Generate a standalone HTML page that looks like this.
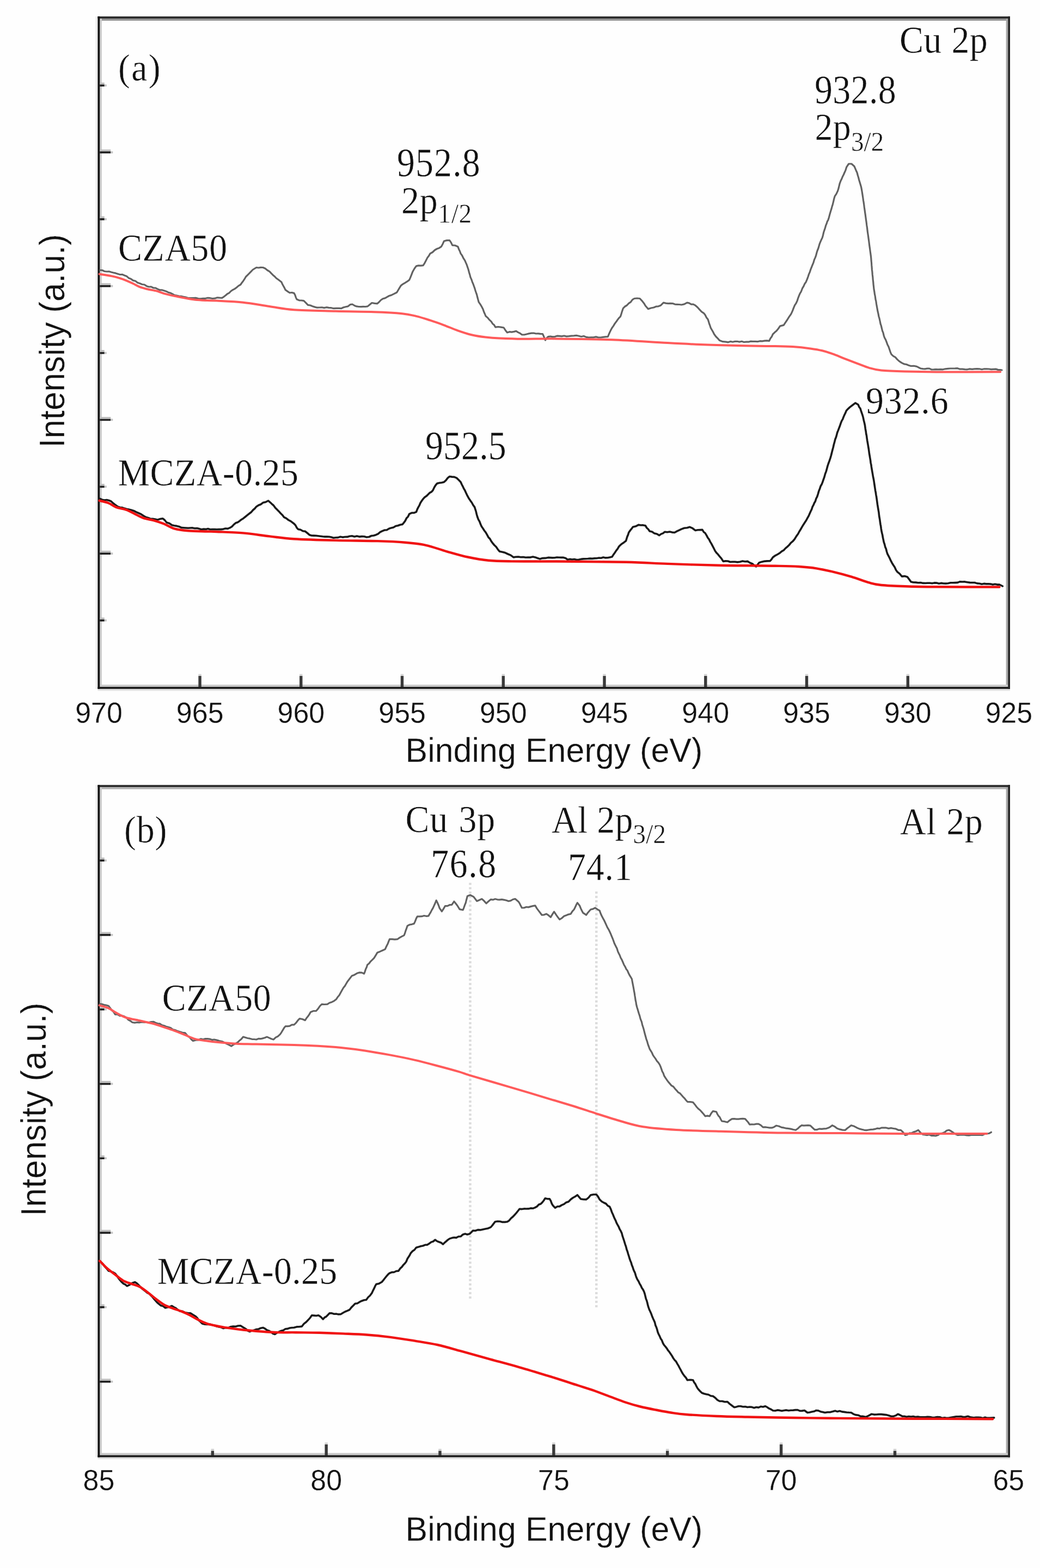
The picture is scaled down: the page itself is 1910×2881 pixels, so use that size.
<!DOCTYPE html>
<html><head><meta charset="utf-8"><title>XPS spectra</title>
<style>
html,body{margin:0;padding:0;background:#fff;}
body{width:1910px;height:2881px;overflow:hidden;}
svg{display:block;}
text{fill:#111;stroke:#fefefe;stroke-width:0.5px;}
</style></head>
<body>
<svg width="1910" height="2881" viewBox="0 0 1910 2881">
<rect width="1910" height="2881" fill="#fefefe"/>
<rect x="175.5" y="30.2" width="4" height="1235.6" fill="#ececec"/>
<rect x="179.5" y="1265.8" width="1675.5" height="3.5" fill="#e2e2e2"/>
<rect x="183.3" y="34" width="1667.9" height="4" fill="#929292"/>
<rect x="183.3" y="34" width="3.7" height="1228" fill="#cdcdcd"/>
<rect x="1847.6" y="34" width="3.6" height="1228" fill="#a8a8a8"/>
<rect x="183.3" y="1258" width="1667.9" height="4" fill="#c9c9c9"/>
<rect x="179.5" y="30.2" width="1675.5" height="3.8" fill="#2a2a2a"/>
<rect x="179.5" y="1262" width="1675.5" height="3.8" fill="#1c1c1c"/>
<rect x="179.5" y="30.2" width="3.8" height="1235.6" fill="#121212"/>
<rect x="1851.2" y="30.2" width="3.8" height="1235.6" fill="#262626"/>
<rect x="183.3" y="155.2" width="8.5" height="3.7" fill="#1e1e1e"/>
<rect x="183.3" y="151.8" width="8.5" height="3.4" fill="#bdbdbd"/>
<rect x="191.8" y="155.2" width="4" height="3.7" fill="#c4c4c4"/>
<rect x="183.3" y="278.1" width="20" height="3.7" fill="#1e1e1e"/>
<rect x="183.3" y="274.7" width="20" height="3.4" fill="#bdbdbd"/>
<rect x="203.3" y="278.1" width="4" height="3.7" fill="#c4c4c4"/>
<rect x="183.3" y="401" width="8.5" height="3.7" fill="#1e1e1e"/>
<rect x="183.3" y="397.5" width="8.5" height="3.4" fill="#bdbdbd"/>
<rect x="191.8" y="401" width="4" height="3.7" fill="#c4c4c4"/>
<rect x="183.3" y="523.8" width="20" height="3.7" fill="#1e1e1e"/>
<rect x="183.3" y="520.4" width="20" height="3.4" fill="#bdbdbd"/>
<rect x="203.3" y="523.8" width="4" height="3.7" fill="#c4c4c4"/>
<rect x="183.3" y="646.7" width="8.5" height="3.7" fill="#1e1e1e"/>
<rect x="183.3" y="643.2" width="8.5" height="3.4" fill="#bdbdbd"/>
<rect x="191.8" y="646.7" width="4" height="3.7" fill="#c4c4c4"/>
<rect x="183.3" y="769.5" width="20" height="3.7" fill="#1e1e1e"/>
<rect x="183.3" y="766.1" width="20" height="3.4" fill="#bdbdbd"/>
<rect x="203.3" y="769.5" width="4" height="3.7" fill="#c4c4c4"/>
<rect x="183.3" y="892.4" width="8.5" height="3.7" fill="#1e1e1e"/>
<rect x="183.3" y="889" width="8.5" height="3.4" fill="#bdbdbd"/>
<rect x="191.8" y="892.4" width="4" height="3.7" fill="#c4c4c4"/>
<rect x="183.3" y="1015.3" width="20" height="3.7" fill="#1e1e1e"/>
<rect x="183.3" y="1011.8" width="20" height="3.4" fill="#bdbdbd"/>
<rect x="203.3" y="1015.3" width="4" height="3.7" fill="#c4c4c4"/>
<rect x="183.3" y="1138.1" width="8.5" height="3.7" fill="#1e1e1e"/>
<rect x="183.3" y="1134.7" width="8.5" height="3.4" fill="#bdbdbd"/>
<rect x="191.8" y="1138.1" width="4" height="3.7" fill="#c4c4c4"/>
<rect x="364.4" y="1242" width="5.4" height="20" fill="#3a3a3a"/>
<rect x="364.4" y="1238.5" width="5.4" height="3.5" fill="#d2d2d2"/>
<rect x="550.1" y="1242" width="5.4" height="20" fill="#3a3a3a"/>
<rect x="550.1" y="1238.5" width="5.4" height="3.5" fill="#d2d2d2"/>
<rect x="735.8" y="1242" width="5.4" height="20" fill="#3a3a3a"/>
<rect x="735.8" y="1238.5" width="5.4" height="3.5" fill="#d2d2d2"/>
<rect x="921.6" y="1242" width="5.4" height="20" fill="#3a3a3a"/>
<rect x="921.6" y="1238.5" width="5.4" height="3.5" fill="#d2d2d2"/>
<rect x="1107.3" y="1242" width="5.4" height="20" fill="#3a3a3a"/>
<rect x="1107.3" y="1238.5" width="5.4" height="3.5" fill="#d2d2d2"/>
<rect x="1293.1" y="1242" width="5.4" height="20" fill="#3a3a3a"/>
<rect x="1293.1" y="1238.5" width="5.4" height="3.5" fill="#d2d2d2"/>
<rect x="1478.8" y="1242" width="5.4" height="20" fill="#3a3a3a"/>
<rect x="1478.8" y="1238.5" width="5.4" height="3.5" fill="#d2d2d2"/>
<rect x="1664.6" y="1242" width="5.4" height="20" fill="#3a3a3a"/>
<rect x="1664.6" y="1238.5" width="5.4" height="3.5" fill="#d2d2d2"/>
<rect x="175.5" y="1442.3" width="4" height="1235.2" fill="#ececec"/>
<rect x="179.5" y="2677.5" width="1675.5" height="3.5" fill="#e2e2e2"/>
<rect x="183.3" y="1446.1" width="1667.9" height="4" fill="#b4b4b4"/>
<rect x="183.3" y="1446.1" width="3.7" height="1227.6" fill="#cdcdcd"/>
<rect x="1847.6" y="1446.1" width="3.6" height="1227.6" fill="#a8a8a8"/>
<rect x="183.3" y="2669.7" width="1667.9" height="4" fill="#c9c9c9"/>
<rect x="179.5" y="1442.3" width="1675.5" height="3.8" fill="#2a2a2a"/>
<rect x="179.5" y="2673.7" width="1675.5" height="3.8" fill="#1c1c1c"/>
<rect x="179.5" y="1442.3" width="3.8" height="1235.2" fill="#121212"/>
<rect x="1851.2" y="1442.3" width="3.8" height="1235.2" fill="#262626"/>
<rect x="183.3" y="1579.2" width="8.5" height="3.7" fill="#1e1e1e"/>
<rect x="183.3" y="1575.7" width="8.5" height="3.4" fill="#bdbdbd"/>
<rect x="191.8" y="1579.2" width="4" height="3.7" fill="#c4c4c4"/>
<rect x="183.3" y="1716" width="20" height="3.7" fill="#1e1e1e"/>
<rect x="183.3" y="1712.5" width="20" height="3.4" fill="#bdbdbd"/>
<rect x="203.3" y="1716" width="4" height="3.7" fill="#c4c4c4"/>
<rect x="183.3" y="1852.8" width="8.5" height="3.7" fill="#1e1e1e"/>
<rect x="183.3" y="1849.3" width="8.5" height="3.4" fill="#bdbdbd"/>
<rect x="191.8" y="1852.8" width="4" height="3.7" fill="#c4c4c4"/>
<rect x="183.3" y="1989.6" width="20" height="3.7" fill="#1e1e1e"/>
<rect x="183.3" y="1986.1" width="20" height="3.4" fill="#bdbdbd"/>
<rect x="203.3" y="1989.6" width="4" height="3.7" fill="#c4c4c4"/>
<rect x="183.3" y="2126.3" width="8.5" height="3.7" fill="#1e1e1e"/>
<rect x="183.3" y="2122.9" width="8.5" height="3.4" fill="#bdbdbd"/>
<rect x="191.8" y="2126.3" width="4" height="3.7" fill="#c4c4c4"/>
<rect x="183.3" y="2263.2" width="20" height="3.7" fill="#1e1e1e"/>
<rect x="183.3" y="2259.7" width="20" height="3.4" fill="#bdbdbd"/>
<rect x="203.3" y="2263.2" width="4" height="3.7" fill="#c4c4c4"/>
<rect x="183.3" y="2400" width="8.5" height="3.7" fill="#1e1e1e"/>
<rect x="183.3" y="2396.5" width="8.5" height="3.4" fill="#bdbdbd"/>
<rect x="191.8" y="2400" width="4" height="3.7" fill="#c4c4c4"/>
<rect x="183.3" y="2536.8" width="20" height="3.7" fill="#1e1e1e"/>
<rect x="183.3" y="2533.3" width="20" height="3.4" fill="#bdbdbd"/>
<rect x="203.3" y="2536.8" width="4" height="3.7" fill="#c4c4c4"/>
<rect x="387.7" y="2665.5" width="5.4" height="8.5" fill="#3a3a3a"/>
<rect x="387.7" y="2662" width="5.4" height="3.5" fill="#d2d2d2"/>
<rect x="596.5" y="2654" width="5.4" height="20" fill="#3a3a3a"/>
<rect x="596.5" y="2650.5" width="5.4" height="3.5" fill="#d2d2d2"/>
<rect x="805.3" y="2665.5" width="5.4" height="8.5" fill="#3a3a3a"/>
<rect x="805.3" y="2662" width="5.4" height="3.5" fill="#d2d2d2"/>
<rect x="1014.2" y="2654" width="5.4" height="20" fill="#3a3a3a"/>
<rect x="1014.2" y="2650.5" width="5.4" height="3.5" fill="#d2d2d2"/>
<rect x="1223" y="2665.5" width="5.4" height="8.5" fill="#3a3a3a"/>
<rect x="1223" y="2662" width="5.4" height="3.5" fill="#d2d2d2"/>
<rect x="1431.9" y="2654" width="5.4" height="20" fill="#3a3a3a"/>
<rect x="1431.9" y="2650.5" width="5.4" height="3.5" fill="#d2d2d2"/>
<rect x="1640.8" y="2665.5" width="5.4" height="8.5" fill="#3a3a3a"/>
<rect x="1640.8" y="2662" width="5.4" height="3.5" fill="#d2d2d2"/>
<path d="M863.5 1622V2386M1095.3 1638V2405" stroke="#dcdcdc" stroke-width="4.5" stroke-dasharray="4 4" fill="none"/>
<path d="M183.6 496.4 187.7 496.5 191.8 498.5 196 499 200.1 498.8 204.2 500 208.2 501 212.3 501.9 216.3 503.3 220.4 504.5 224.4 504.3 228.5 506 232.5 507.4 236.6 511.1 240.6 512.6 244.6 515.4 248.7 516.3 252.7 519.4 256.9 520.7 261 522.5 265.2 523 269.3 525.7 273.5 527 277.6 526.8 281.8 529 285.7 529.1 289.6 531.1 293.4 532.8 297.3 532.8 301.2 534 305.1 535.2 309 537.2 312.8 538.2 316.7 540.2 320.6 542.4 324.6 543.1 328.7 544 332.7 544.4 336.7 545.2 340.8 546 344.8 547.3 349.6 547.5 354.5 547.5 359.4 547.3 364.2 548.5 368.6 548.9 372.9 548.3 377.3 548.3 381.6 547.3 386 547.7 390.4 548.5 394.7 548.2 399.1 546.8 403.4 547.1 407.8 547.3 411 545.3 414.3 542.8 417.5 540 420.7 538.4 424 535 427.2 532.7 430.9 530.9 434.5 528.2 438.1 525.1 441.8 523 444.2 519.5 446.6 516.4 449.1 512.7 451.5 508.5 454.7 505.3 457.9 502.2 461.1 498.8 464.3 495.5 467.6 493.5 470.8 491.5 474.9 492 478.9 491.3 483 491.5 487 493.3 491 496.5 495 498.8 498.1 502.2 501.1 505.2 504.1 507.7 507.2 511 510.4 513.3 513.7 515.8 516.9 518.2 518.7 522.3 520.5 525.5 522.4 528.9 524.2 532.7 528.1 535.3 532 538 536 537.5 540 538.6 541.7 541.6 543.4 546.6 545.1 550.1 549.4 551.8 553.6 552 557.9 552.7 561.7 556.3 565.5 560.3 569.8 561 574 562.8 578.3 564.1 582.5 565.2 586.8 565 591 564.8 595.3 565.6 599.5 564.7 603.8 565.4 608.4 565.7 613 566.7 617.5 566.3 622.1 566.4 626.7 566.7 630.8 564.7 634.9 563.7 638.9 562.9 643 559.7 647.1 559 651 561.5 654.8 562.9 658.9 563.5 663 563.6 667 563.3 671.1 563.5 675.2 562.9 679 559.7 682.9 556.5 688 557.3 693 557.8 696.4 554.7 699.9 551 703.3 548.8 707.1 547.9 711 545.7 714.8 543.5 718.6 542.4 723.7 539.9 728.8 537.3 731.3 533 733.9 528.6 736.4 524.6 740.2 521.8 744 519.6 747.9 517.2 751.7 514.4 753.6 510.1 755.5 505.4 757.5 500.1 759.4 496.5 762 492.2 764.5 488.9 768.7 487.9 773 488.2 777.2 487.6 779.8 483.6 782.3 478.8 784.9 473.6 787.5 470.3 790 465.9 794.3 463.5 798.5 459.5 802.8 457 806.6 455.7 810.4 453.2 813 448.4 815.5 443 820.6 441.6 825.7 441.7 828.2 445.3 830.8 450.6 835.9 451 841 453.2 842.7 457.9 844.4 461.2 846.1 465.9 848.7 469.5 851.2 474.7 853.8 478.7 855.5 482.7 857.2 486.4 858.9 491.4 860.2 495.3 861.5 500.4 862.7 504.2 864 509.3 865.7 513.1 867.4 518.1 869.1 522 870.4 525.7 871.7 529.3 872.9 533.4 874.2 537.3 875.5 540.9 876.8 546 878 550.6 879.3 555.2 881.9 558.9 884.4 563 887 568 888.7 573 890.3 576.5 892 580.7 895.4 583.6 898.8 587.7 902.2 590.9 904.8 594.9 907.3 596.8 909.9 601.1 915 600.5 920 601.1 925.1 602 928.3 606.9 931.5 611 935.6 609.7 939.8 610.1 943.9 609.4 948 608.4 951.4 610.6 954.9 612.2 958.3 614.8 962.8 615 967.2 614 971.6 612.9 976.1 612.2 980.2 612 984.3 613 988.3 612.8 992.4 613.4 996.5 613.5 998.2 617 999.9 621.4 1001.6 625 1004.2 621 1006.7 618.6 1010.8 618 1014.9 618.9 1018.9 618.5 1023 617.2 1027.1 617.3 1031.6 617.9 1036 617 1040.5 618.1 1045 617.7 1049.5 617.1 1054 616.9 1058.4 616.4 1062.9 617.3 1067.5 618.5 1072.1 617.5 1076.6 619.4 1081.2 620.2 1085.8 619.9 1090.2 619.8 1094.5 618.9 1098.9 620 1103.3 620 1107.7 619.3 1112 618.8 1116.4 618.6 1118.1 614.5 1119.8 610.7 1121.5 607.1 1124.1 602.3 1126.6 598.9 1129.2 594.4 1131.8 591.1 1134.3 587.4 1136.9 584.1 1139.4 581.6 1140.7 578.1 1142 573.6 1143.2 570.1 1144.5 566.3 1147.9 563 1151.3 561 1154.7 557.4 1158.1 555.2 1161.5 550.6 1164.9 548.5 1170 548 1175.1 548.5 1178.9 552.6 1182.8 557.4 1185.3 561.7 1187.9 564.7 1190.4 567.6 1195.5 566 1200.6 565 1204.9 563.2 1209.1 562.8 1213.4 561.2 1218.5 556.1 1222.7 557.1 1227 557.7 1231.2 557.4 1235.3 557.6 1239.4 559.1 1243.4 559.3 1247.5 559.5 1251.6 560 1256.7 558.9 1261.8 556.1 1265.6 556.9 1269.4 559.1 1273.3 559.2 1277.1 561.2 1280.9 564.5 1284.8 568.9 1288.6 572.8 1292.4 575.3 1295 578.6 1297.5 583.4 1300.1 586.7 1301.4 590.8 1302.7 595.2 1303.9 598.2 1305.2 602.4 1307.3 606 1309.5 609.8 1311.6 614 1314.9 618.5 1318.3 621.9 1321.6 625.6 1327.4 627.7 1333.2 628.1 1337.3 628.8 1341.5 627.4 1345.6 628.2 1349.7 627.4 1353.9 627.3 1358 628.1 1362.2 627.2 1366.3 628.5 1370.5 628.2 1374.6 628.2 1378.8 627.1 1382.9 627.3 1387.2 627.4 1391.4 627.6 1395.7 626.7 1399.9 626.9 1404.2 626.2 1408.4 625.8 1412.7 626.4 1414.9 621.8 1417.2 618.8 1419.4 614 1422.7 610.8 1426 608.1 1429.3 604 1432.6 599.1 1439.3 597.4 1442.6 592.4 1445.9 587.5 1449.2 582.1 1452.5 577.5 1454.2 574.1 1455.8 570.4 1457.5 565.9 1459.7 560.6 1462 557.3 1464.2 552.6 1465.8 547.5 1467.5 543.1 1469.1 539.4 1471.3 535.7 1473.6 529.7 1475.8 526.1 1478 521.2 1480.2 518.2 1482.4 512.9 1484.1 508.3 1485.7 503.3 1487.4 499.6 1489 494.6 1490.7 490.3 1492.3 486.3 1494 482.3 1495.6 476.8 1497.3 473.1 1498.6 469.5 1500 464.1 1501.3 460 1502.6 457 1503.8 453 1505.1 448.4 1506.8 444.2 1508.5 440.3 1510.2 436.9 1511.5 432.2 1512.7 426.8 1514 422.9 1515.3 419.3 1516.6 414.4 1517.9 411.4 1519.4 406.7 1520.8 404.6 1522.3 399.9 1523.9 393.8 1525.5 388.4 1526.8 384.3 1528 379.8 1529.3 375.7 1530.6 370.3 1531.9 364.7 1533.2 360.4 1535.8 356.6 1538.3 351.4 1539.6 347.6 1540.8 342.9 1542.1 337.4 1544 332.3 1545.9 328.5 1547.6 324.2 1549.3 321 1551 317 1552.9 312.8 1554.8 306.8 1558.7 301 1563.8 301 1568.9 305.5 1570.6 309.4 1572.3 313.5 1574 317 1575.3 322 1576.5 325.9 1577.8 331 1579.1 335.3 1580.3 339.2 1581.6 343.8 1582.5 348.4 1583.3 353.2 1584.2 359.1 1584.8 362.9 1585.5 368.3 1586.1 371.5 1586.7 375.7 1587.3 380.7 1588 385.5 1588.7 390.8 1589.3 394.8 1589.9 399.4 1590.5 404 1591.2 408.8 1591.8 413.9 1592.5 418.4 1593.1 424.1 1593.8 429 1594.4 433.1 1595 437.5 1595.7 442.4 1596.3 447.5 1596.9 452.2 1597.6 457.1 1598.2 461.9 1598.8 466.1 1599.5 471.3 1599.8 474.5 1600.1 479 1600.5 482.7 1600.8 487.7 1601.1 490.9 1601.4 495.7 1601.9 499.4 1602.3 504.9 1602.8 508.7 1603.2 514.1 1603.7 518 1604.1 523.1 1604.5 526.3 1605 531.4 1605.8 535.9 1606.5 540.9 1607.2 544 1608 550.1 1608.8 553.1 1609.5 558.2 1610.4 563.3 1611.3 568.4 1612.1 572.7 1613 576.4 1613.9 581.4 1615 585 1616.1 590 1617.1 595.1 1618.2 598.2 1619.3 602.9 1620.6 608.1 1621.9 611.2 1623.3 617 1624.6 620.7 1626.4 623.9 1628.2 628.4 1630 633.5 1631.8 636.8 1633.6 642.1 1635.3 647.1 1637.1 651.1 1640.7 654.4 1644.3 656.4 1647.8 660.4 1651.4 663.6 1655.9 666.6 1660.4 668.9 1664.6 669.5 1668.7 671.2 1672.9 672.5 1678.2 672.3 1683.6 673.4 1690.7 677 1694.7 677.6 1698.8 677.8 1702.8 677.2 1706.8 677.1 1710.8 679 1714.9 678.9 1718.9 678.7 1722.9 678.8 1727.4 678.6 1731.8 678.8 1736.2 677.8 1740.7 677.4 1745.1 677 1749.6 677 1754.1 676.9 1758.5 676.7 1763 678.2 1767.5 678.1 1771.9 678.6 1776.4 678.8 1780.9 677.9 1785.3 678.3 1789.8 677.8 1794.2 677.7 1798.7 677.8 1803.2 678.7 1807.6 677.8 1812.1 677.9 1816.3 678 1820.4 678.7 1824.6 678.3 1828.8 678.1 1832.9 679.4 1837.1 679.6 1840 680" stroke="#616161" stroke-width="3.2" fill="none" stroke-linejoin="round" stroke-linecap="round"/>
<path d="M182.6 503.6C186.4 504.2 199.6 506.2 205.5 507.4C211.4 508.6 214.1 509.3 218.3 510.6C222.6 511.9 226.8 513.4 231 515.1C235.2 516.8 239.6 518.8 243.8 520.8C248.1 522.8 252.2 525.5 256.5 527.2C260.8 528.9 264 529.7 269.3 531C274.6 532.3 283.1 533.4 288.4 534.8C293.7 536.2 295.9 537.8 301.2 539.3C306.5 540.8 313.9 542.4 320.3 543.8C326.7 545.2 333 546.4 339.4 547.6C345.8 548.8 351.8 550 358.6 550.8C365.4 551.5 373.4 551.8 380 552.1C386.6 552.4 386.9 552 398 552.6C409.1 553.2 430.4 554 446.6 555.7C462.8 557.4 479.4 560.8 495 563C510.6 565.2 519.8 567.7 540 569.2C560.2 570.7 591.9 571.1 616.5 571.8C641.1 572.5 667.2 572.5 687.6 573.2C708 573.9 725.9 574.9 738.6 576.2C751.3 577.5 755.5 578.9 764 580.9C772.5 582.9 781.1 585.7 789.6 588.4C798.1 591.1 806.5 594.1 815 597.3C823.5 600.4 832.1 604.3 840.6 607.3C849.1 610.3 857.6 613.2 866.1 615.2C874.6 617.2 883.1 618.5 891.6 619.5C900.1 620.5 905.7 621 917.1 621.5C928.5 622 942.5 622.6 960 622.8C977.5 622.9 994.7 622.2 1022 622.4C1049.3 622.6 1090 622.9 1124 624.2C1158 625.5 1196.7 628.5 1226 630.1C1255.3 631.7 1274.3 632.7 1300 633.6C1325.7 634.5 1359.4 635.2 1380 635.6C1400.6 636 1410.8 635.8 1423.4 636C1436.1 636.2 1445.1 636.4 1455.9 637.1C1466.7 637.8 1479.4 639.2 1488.4 640.4C1497.4 641.6 1502.9 642.5 1510.1 644.3C1517.3 646.1 1524.6 648.6 1531.8 651.2C1539 653.8 1546.3 657.1 1553.5 659.9C1560.7 662.7 1567.9 665.4 1575.1 668.1C1582.3 670.8 1589.6 674 1596.8 676.1C1604 678.2 1607.7 679.4 1618.5 680.5C1629.3 681.6 1645 682.1 1661.9 682.6C1678.8 683.1 1690.8 683.4 1720 683.5C1749.2 683.6 1817.6 683.2 1837.1 683.2" stroke="#ff5a5a" stroke-width="4.0" fill="none" stroke-linejoin="round" stroke-linecap="round"/>
<path d="M183.6 916.4 187.7 918.2 191.8 919.1 196 918.5 200.1 919.5 204.2 921.2 208.3 925 212.3 928.1 216.4 930.9 220.4 932.2 224.5 932.6 228.5 934.1 232.5 935.2 236.6 936.1 240.6 937 245.4 938.4 250.3 940.9 255.1 943 259.4 944.9 263.6 947.7 267.9 950.3 272.1 951.5 276.4 953.2 280.6 953.4 284.9 954.1 289.1 955.1 294 953.5 298.8 952.7 302.4 955.5 306 960 310.9 961.5 315.7 964.8 320.1 965.7 324.4 966.4 328.8 967.5 333.1 969.4 337.5 969.7 341.5 970 345.6 970.3 349.6 970 353.7 969.9 357.7 970.7 361.8 970.6 365.8 971.6 369.9 972.7 373.9 972.1 377.9 972.4 382 971.5 386 972.8 390 972.6 394.1 972.5 398.1 972.8 402.1 972.6 406.2 972.6 410.2 972.1 414.3 971 418.3 971.4 422.4 969.7 426 967.5 429.6 963.6 433 960.8 436.4 959.7 439.8 957.4 443.2 954.8 446.6 952.7 450.6 949.5 454.7 946.2 458.7 943 461.7 940.7 464.8 937 467.8 934.5 470.8 930.9 474.9 928.2 478.9 926.7 483 923.6 487.9 922.5 492.7 920 495.9 922.8 499.1 925.8 502.3 928.5 505.5 932.9 508.8 936.2 512 939.4 515.2 943 518.5 946.2 521.7 950.3 525.8 952.4 529.8 955.5 533.9 957.6 540 962.2 542.6 965 545.1 969.7 547.7 972.4 551.9 973.3 556.2 975.7 560.4 976.3 564.2 979.2 568.1 982.7 572.2 984 576.3 984.1 580.3 984.2 584.4 984.7 588.5 985.2 592.5 985.8 596.5 986.1 600.5 986 604.5 986.2 608.5 987.1 612.5 988.2 616.5 987.8 620.8 987.6 625 986.2 629.2 987.1 633.5 986.5 637.8 986.4 642 985.2 646.5 984.8 651 986 655.4 984.9 659.9 986.1 664.4 985.6 668.8 985.7 673.3 987 677.8 986.5 682 984.5 686.3 984 690.5 982.7 694.4 980.8 698.2 977.6 702.3 975.6 706.4 974 710.4 973.7 714.5 971.3 718.6 969.9 722.7 969 726.8 966.5 730.8 965.8 734.9 964.2 739 963.5 741.5 960.6 744.1 957.1 746.6 952.1 749.2 949.5 751.7 944.4 756 942.3 760.2 942.3 764.5 940.6 766.4 935.6 768.3 931.9 770.2 928.7 772.1 924 774.7 920 777.2 916.6 779.8 913.8 783 911.6 786.2 908.5 789.4 905.3 792.6 903.6 795.1 900.7 797.7 895.3 800.2 891.3 802.8 888.3 807 887.2 811.3 886.8 815.5 885.7 818.9 882.7 822.3 878.2 825.7 875.5 830 876.1 834.2 876.4 838.5 878.1 842.3 881.8 846.1 885.7 848 890 850 893.8 851.9 897.9 853.8 901 855.7 905.3 857.6 909.3 859.5 912.8 861.4 916.3 864 920.1 866.5 923.5 869 928.1 871.6 931.6 872.9 935.7 874.2 939.8 875.4 944.9 876.7 949.5 878.6 954.6 880.5 957.7 882.5 963 884.4 967.3 887 971 889.5 975 892 978.2 894.6 982.7 897.1 987.4 899.7 989.9 902.2 994.4 904.8 998 908 1001.7 911.2 1004.8 914.4 1009.6 917.6 1013.3 922.7 1014.2 927.7 1015.6 932.8 1018 937.9 1020.1 943 1023.9 947.5 1023.2 951.9 1023 956.4 1023.8 960.9 1023.5 965.3 1024.3 969.8 1024.1 974.2 1024.1 978.7 1023.1 982.9 1023.9 987.2 1025.5 991.4 1026.9 996.5 1025.6 1001.6 1025.4 1006.7 1024.4 1010.7 1024.6 1014.7 1024.9 1018.7 1024.8 1022.8 1024 1026.8 1024.3 1030.8 1024.4 1034.8 1024.4 1038.6 1025.4 1042.4 1028.2 1046.5 1027.4 1050.6 1028 1054.7 1027.5 1058.8 1028.6 1062.9 1028.2 1067 1027.4 1071.2 1026.9 1075.3 1026.7 1079.5 1026.5 1083.6 1026.1 1087.7 1026.4 1091.9 1025.9 1096 1025.7 1100 1025 1104 1025.2 1108 1024.1 1112.1 1024.9 1116.1 1024.7 1120.1 1023.9 1124.1 1023.1 1126.6 1019.1 1129.2 1015.5 1131.7 1011.6 1134.3 1008.3 1136.8 1004 1139.4 1001.4 1142.8 998.7 1146.2 996.4 1149.6 993.8 1150.9 989.4 1152.2 985.4 1153.4 982.9 1154.7 978.5 1157.2 974.9 1159.8 971.7 1162.3 968.3 1167.4 967.1 1172.6 964.4 1176.8 965 1181.1 964.9 1185.3 965.7 1187.9 970 1190.4 972.3 1193 975.9 1197.5 977 1201.9 980.1 1206.3 981 1210.8 983.6 1214.2 981.1 1217.6 979.9 1221 977.2 1225.5 977.8 1230 977 1234.4 978.1 1238.9 978.5 1243.1 976.2 1247.4 974.2 1251.6 972.1 1256.7 970.3 1261.8 969.7 1266.9 968.3 1272 970.7 1277.1 974.6 1281.4 973.8 1285.6 973.6 1289.9 973.4 1292.5 977.6 1295 979.4 1297.6 983.6 1299.8 987.9 1302.1 990.8 1304.3 995.4 1306.6 999.1 1308.8 1003.3 1311.1 1007.8 1313.3 1012.3 1316.1 1016.1 1318.8 1018.8 1321.6 1022.3 1324.9 1026.2 1328.2 1031.4 1332.5 1030.9 1336.8 1031 1341.1 1032.5 1345.4 1032.3 1349.7 1032.2 1354.4 1032.9 1359 1032.2 1363.7 1030.9 1368.3 1031.8 1373 1031.4 1377.5 1034.2 1382 1036 1385.3 1038.9 1388.7 1041 1391.3 1037.5 1394 1034 1398.4 1032.4 1402.8 1031.4 1408.6 1030.9 1414.4 1030.6 1416.9 1027.8 1419.4 1024 1423.8 1020.8 1428.2 1018.5 1432.6 1015.7 1435.9 1012.9 1439.3 1011 1442.6 1007.4 1445.9 1004.6 1449.2 1001.5 1452.5 997.4 1455.8 994.7 1459.2 990.8 1462.5 985.4 1465.8 980.8 1468 976.5 1470.2 973 1472.4 969.2 1475.2 964.4 1477.9 960.3 1480.7 956 1482.9 951.9 1485.2 947.9 1487.4 942.7 1489.1 939.1 1490.7 935.8 1492.3 930.8 1494 927.8 1495.7 923.8 1497.3 921.2 1498.9 916 1500.6 912.9 1502.3 907.8 1503.9 902.1 1505.6 897.9 1507.2 893 1508.9 890.3 1510.5 886.3 1512.2 881.3 1513.9 876.6 1515.5 870.7 1517.2 866.4 1518.6 861.2 1519.9 856.3 1521.3 852 1523.2 846.9 1525.1 841.2 1526.4 836.7 1527.7 831.5 1528.9 826.8 1530.2 822 1531.5 816.2 1532.7 811.9 1534 806.7 1535.3 803.7 1536.5 799.5 1537.8 794.5 1539.1 791.4 1540.8 786.8 1542.5 782.5 1544.2 777.4 1545.9 773.1 1547.6 770.4 1549.3 765.9 1551 762 1552.7 758.6 1554.4 754.4 1557.6 751.1 1560.8 748.1 1565.9 744.2 1571 740.4 1576.1 743.6 1578 748 1580 750.6 1581.3 754.9 1582.5 758.4 1583.8 762.1 1585.1 766.6 1586.3 772.2 1587.6 777.4 1588.5 781.7 1589.3 787.8 1590.2 792.7 1590.8 797.5 1591.5 800.4 1592.1 805.2 1592.7 809.3 1593.6 814.4 1594.4 819.3 1595.3 824.6 1595.9 829.1 1596.5 833.7 1597.2 837.4 1597.8 841.2 1598.5 845.3 1599.1 850.3 1599.8 853.3 1600.4 857.8 1601.2 862.6 1601.9 866.7 1602.7 871.2 1603.4 875.7 1604.2 879.4 1604.9 883.2 1605.6 888.1 1606.2 892 1606.9 896.7 1607.6 901.5 1608.3 904.9 1608.9 909.3 1609.5 912.3 1610.2 917.2 1610.8 921.8 1611.4 926.3 1612 930 1612.7 934.4 1613.3 938 1613.9 941.3 1614.5 947.1 1615.1 950.9 1615.8 954.8 1616.4 959.5 1617 963.6 1617.6 966.3 1618.2 971.2 1619 975.9 1619.9 980 1620.7 983.1 1621.5 988.2 1622.4 992.1 1623.2 996.1 1624.5 999.8 1625.8 1005.2 1627.2 1008.3 1628.5 1013.5 1629.8 1017.6 1631.9 1021.6 1633.9 1025.5 1636 1030.2 1638.1 1034.2 1640.6 1038.3 1643.1 1042 1645.6 1047.5 1648.1 1050.8 1652.2 1054.2 1656.4 1059.1 1661.3 1058.6 1666.3 1059.9 1669.7 1064.4 1673 1069 1677.4 1070 1681.8 1070.1 1686.2 1070.7 1690.7 1070.6 1695.1 1071.4 1699.5 1071.5 1703.6 1071.3 1707.8 1071.2 1711.9 1071.7 1716 1070.9 1720.2 1071.1 1724.3 1072.3 1728.5 1071.4 1732.6 1072 1737 1072.1 1741.3 1071.8 1745.7 1070.7 1750 1070.8 1754.4 1070.6 1758.8 1070.4 1763.1 1068.7 1767.5 1069 1772 1068.9 1776.5 1069.7 1781 1070.4 1785.5 1070.5 1790 1070.5 1794.5 1071.9 1799 1072.3 1803 1073.3 1807.1 1072.4 1811.1 1072.9 1815.2 1072.8 1819.2 1073.1 1823.3 1074.1 1827.3 1073.3 1831.4 1074.1 1835.4 1074 1841.3 1077" stroke="#1a1a1a" stroke-width="3.6" fill="none" stroke-linejoin="round" stroke-linecap="round"/>
<path d="M182.6 919.8C185.3 920.5 194 922.2 199.1 924.2C204.2 926.2 207.9 929.9 213.2 931.9C218.5 933.9 225.5 934.5 231 936.4C236.5 938.3 241 940.8 246.3 943.4C251.6 946 256.9 949.6 262.9 951.7C268.8 953.8 275.6 954.3 282 956.1C288.4 957.9 294.8 960 301.2 962.5C307.6 965 312.9 969.3 320.3 971.4C327.7 973.5 335.9 974.4 345.8 975.3C355.8 976.1 371.3 976.2 380 976.5C388.7 976.8 387 976.5 398.1 977C409.2 977.5 430.5 978 446.6 979.4C462.8 980.8 479.4 983.6 495 985.4C510.6 987.2 519.8 989 540 990.3C560.2 991.5 591 992.3 616.5 992.9C642 993.5 671.7 993.5 693 994.1C714.3 994.7 729.2 995.4 744.1 996.7C759 998 769.5 999 782.3 1001.8C795 1004.6 807.8 1009.7 820.6 1013.3C833.4 1016.9 846.1 1020.8 858.9 1023.5C871.6 1026.2 883.6 1028.5 897.1 1029.8C910.6 1031.1 919.2 1031.1 940 1031.4C960.8 1031.7 987.1 1031.3 1022 1031.5C1056.9 1031.7 1115.6 1032.1 1149.6 1032.8C1183.6 1033.5 1197.7 1034.9 1226.1 1035.9C1254.5 1036.9 1294.3 1038.2 1320 1038.8C1345.7 1039.4 1362.8 1039.1 1380 1039.3C1397.2 1039.5 1409 1039.4 1423.4 1039.7C1437.9 1040 1454.1 1040.2 1466.7 1041C1479.3 1041.8 1488.5 1042.6 1499.3 1044.3C1510.1 1046 1521 1048.6 1531.8 1051.2C1542.6 1053.8 1553.5 1056.7 1564.3 1059.9C1575.1 1063.2 1587.8 1068.2 1596.8 1070.7C1605.8 1073.2 1607.7 1073.9 1618.5 1075C1629.3 1076.1 1645 1076.7 1661.9 1077.2C1678.8 1077.8 1691.1 1078.1 1720 1078.3C1748.9 1078.5 1816.2 1078.5 1835.4 1078.5" stroke="#f01212" stroke-width="4.4" fill="none" stroke-linejoin="round" stroke-linecap="round"/>
<path d="M183.6 1844.5 187.6 1845 191.5 1846.4 195.4 1847 199.4 1848.2 202.4 1852.3 205.4 1856.3 208.5 1859.2 211.5 1863.9 215.8 1863.9 220 1866.4 224.2 1866.2 228.5 1867.6 232.1 1869.8 235.8 1873.9 239.4 1875.7 243 1878.5 247.4 1879.1 251.7 1878.5 256.1 1878.8 260.4 1877.9 264.8 1878.5 269.1 1878.4 273.3 1878.6 277.6 1877.6 281.8 1877.3 285.7 1879.2 289.6 1880.5 293.4 1880.8 297.3 1883.5 301.2 1884.5 305.2 1886.3 309.3 1887.4 313.3 1888.5 317.3 1891.6 321.4 1892.5 325.4 1894.2 330.3 1895.8 335.1 1897.3 340 1897.9 342.9 1901.2 345.8 1904.5 348.7 1906.4 351.6 1910 354.5 1912.4 359.3 1911.1 364.2 1910.8 369 1908.8 373.1 1909.7 377.1 1908.5 381.1 1908.7 385.2 1909.1 389.2 1910.6 393.3 1910 398.1 1911.1 403 1912.6 407.8 1913.6 412.1 1915.4 416.3 1917.9 420.6 1919.8 424.8 1922.1 428.8 1919.4 432.9 1917.4 436.9 1914.8 440.1 1911.7 443.4 1909.1 446.6 1905.1 450.6 1906.2 454.7 1907.5 458.7 1908.2 462.7 1909.3 466.8 1909.5 470.8 1910 474.7 1908.4 478.6 1908.7 482.4 1907.9 486.3 1906.8 490.2 1905.1 494.2 1906.9 498.3 1908.8 502.3 1910 506.4 1906.2 510.4 1904.1 514.5 1900.3 516.9 1896.8 519.4 1892.6 521.8 1888.6 524.2 1885.7 528.2 1885.6 532.1 1885.2 536 1882.9 540 1882.9 543.4 1879.7 546.8 1875.2 550.2 1871.6 555.3 1872.5 560.4 1874.7 563 1870.5 565.5 1867.5 568 1863.9 570.6 1859.4 575.7 1857.5 580.8 1857.3 584.2 1853.4 587.6 1848.3 591 1845.1 596.1 1845.5 601.2 1845.1 605.3 1842.5 609.4 1841.2 613.5 1839.1 617.6 1835.9 620.3 1831.8 623 1828.7 625.7 1823.7 628.2 1819.3 630.8 1814.7 633.4 1811.6 635.9 1807.3 638.5 1802.9 641 1799.7 643.5 1796.5 646.1 1793.1 650.9 1791.2 655.6 1788.3 660.4 1786.9 664.5 1787.1 668.6 1789 670.1 1785.6 671.7 1780.5 673.2 1777.6 674.7 1772.7 677.8 1770.3 680.8 1766.3 683.9 1763.4 686.9 1760.4 690 1755.3 693.1 1750.2 697.8 1748.4 702.6 1746.3 707.3 1744.1 708.9 1740.5 710.6 1737 712.2 1733.9 713.9 1729.4 715.5 1725.7 720.3 1725.6 725 1726.1 729.8 1725.7 733.9 1722.9 737.9 1720.6 742 1718.6 743.5 1715.1 745.1 1709.9 746.7 1705.6 748.2 1701.2 752.3 1699 756.3 1698.3 760.4 1697.1 762.4 1692.8 764.5 1687.4 766.5 1683.9 770.6 1683.9 774.7 1683.7 778.8 1682.5 782.9 1683.3 787 1682.9 789 1679.3 791 1676.1 793.1 1671.9 795.1 1668.6 797.1 1664.2 799.2 1659.5 801.2 1654.3 803.2 1658.2 805.3 1663 807.3 1668.6 811.4 1674.7 814.5 1669.9 817.6 1664.5 821.7 1664.6 825.7 1662.7 829.8 1662.4 833.9 1656.3 837 1660.1 840 1664 844.1 1670.6 850.2 1672 851.9 1667.8 853.6 1662.9 855.3 1658.8 856.3 1654.5 857.4 1650.3 858.4 1646.5 863.5 1644.5 869.6 1647.6 872.7 1651.4 875.7 1655.7 880.3 1653.8 884.9 1651.6 889 1655.3 893.1 1659.8 897.2 1656 901.2 1652.7 905.3 1653.2 909.4 1651.8 913.4 1652.8 917.5 1653.1 921.6 1652.7 925.7 1653.4 929.8 1654.2 933.9 1655.7 938 1654.9 942 1652.5 946.1 1651.6 952.2 1656.7 954.3 1659.9 956.3 1664.1 958.4 1668 962.5 1668 966.5 1666.5 970.6 1666.9 974.7 1665.6 978.8 1664.6 982.9 1663.9 986 1669.1 989 1673.1 992 1677 995.1 1681.2 999.2 1680.8 1003.3 1679.2 1007.3 1681.7 1011.4 1685.3 1014.5 1679.9 1017.6 1675.1 1021.6 1681.2 1024.7 1685.6 1027.8 1689.4 1031.8 1687 1035.9 1683.3 1040 1681.8 1044.1 1680.1 1048.2 1679.2 1051.2 1674.4 1054.3 1671 1056.3 1667 1058.4 1662.3 1060.4 1658.8 1064.5 1663.9 1066.5 1668.9 1068.6 1673.3 1070.6 1677.1 1076.7 1681.2 1079.4 1677.2 1082.2 1674 1084.9 1671 1089 1670.1 1093.1 1668 1097.2 1670.8 1101.2 1673.1 1103.2 1678.8 1105.3 1683.3 1107.3 1687.1 1109.4 1690.8 1111.5 1695.2 1113.5 1699.6 1115.5 1704.2 1117.5 1707.3 1119.6 1711.5 1121.6 1715.9 1123.2 1719.8 1124.9 1723.9 1126.5 1728 1128.2 1733 1129.8 1736.3 1131.4 1739.4 1133.1 1742.8 1134.7 1748.1 1136.4 1751.7 1138 1754.7 1140 1760 1142 1763.4 1144 1768 1146.1 1773 1148.2 1776.3 1150.2 1780.8 1152.3 1783.3 1154.3 1788 1156.3 1791.9 1158.4 1795.3 1160.4 1798.8 1161.2 1803.3 1162 1807.4 1162.9 1812 1163.7 1816.2 1164.5 1821.2 1165.2 1824.5 1165.9 1829.5 1166.5 1833.1 1167.2 1838.1 1167.9 1840.8 1168.6 1845.7 1169.8 1850.5 1171 1854.2 1172.3 1858.7 1173.5 1862.7 1174.7 1866.1 1175.9 1870.9 1177.1 1874.4 1178.4 1877.5 1179.6 1882.9 1180.8 1886.5 1182 1890.4 1183.2 1895.1 1184.5 1900.3 1185.7 1904.5 1186.9 1909 1188.5 1913.4 1190 1918.9 1191.5 1922.9 1193.1 1927.3 1195.1 1930.6 1197.2 1934 1199.2 1938.7 1201.2 1941.6 1203.8 1945.1 1206.3 1949.3 1208.9 1952.1 1211.4 1955.9 1213 1959.4 1214.7 1964.1 1216.3 1968.7 1218 1971.6 1219.6 1976.3 1222.1 1980.4 1224.7 1984.2 1227.2 1987.6 1229.8 1990.6 1233.2 1994.6 1236.6 1996.5 1240 2000.8 1242.9 2003.9 1245.7 2007.2 1248.6 2008.6 1251.4 2011.8 1254.3 2015.1 1257 2017.8 1259.7 2021.3 1262.4 2024.3 1267.6 2024.7 1272.7 2025.3 1276.1 2029.4 1279.5 2034 1282.9 2037.6 1286 2040 1289 2043.4 1292 2046.8 1295.1 2050.8 1299.2 2050.1 1303.3 2050.8 1306.3 2045.4 1309.4 2041.6 1315.5 2042.7 1317.5 2047 1319.6 2050.3 1321.6 2052.3 1323.7 2056.5 1325.7 2060 1330.8 2060.7 1335.9 2062 1340 2058.6 1344.1 2055.9 1348.2 2055.6 1352.3 2056.2 1356.3 2056.1 1360.4 2055.6 1364.5 2055.3 1368.6 2055.9 1371.3 2059 1374 2062 1376.7 2066.1 1380.8 2065.9 1384.9 2066 1389 2065.1 1393.1 2065.1 1397.2 2067.4 1401.2 2071.2 1405.3 2070.9 1409.4 2071.5 1413.5 2072.1 1417.6 2072.2 1421.7 2070.7 1425.7 2068.2 1430.5 2069.3 1435.2 2071.4 1440 2072.2 1444.3 2073.2 1448.6 2073.7 1452.8 2074.4 1457.1 2075.5 1461.4 2076.3 1465 2073.8 1468.5 2070.4 1472.1 2067.7 1476.1 2068.2 1480.2 2067.9 1484.2 2067.6 1488.2 2068.2 1492.2 2072 1496.3 2075.7 1500.6 2075.6 1504.9 2074.1 1509.1 2074.3 1513.4 2073.9 1517.7 2073.6 1521.3 2072.3 1524.8 2070.5 1528.4 2067.7 1532.9 2069.9 1537.3 2073.2 1541.8 2074.9 1547.2 2076.1 1552.5 2076.3 1556.1 2073 1559.6 2070.5 1563.2 2067.7 1568.6 2069.3 1573.9 2072.2 1578.4 2074.1 1582.8 2075.2 1587.3 2076.3 1591.3 2076.6 1595.3 2076 1599.4 2075.4 1603.4 2075.1 1607.4 2074.4 1611.4 2073.1 1615.4 2073.6 1619.5 2072.1 1623.5 2072 1627.5 2072.2 1632 2073.4 1636.4 2072.7 1640.9 2073.5 1645.4 2074.2 1649.8 2076.3 1654.3 2076.3 1657 2078.8 1659.6 2081.6 1662.3 2085.6 1666.3 2084.7 1670.3 2081.8 1674.3 2081.6 1678.4 2079.7 1682.4 2078.5 1686.4 2076.3 1690.5 2081.1 1694.5 2084.3 1698.5 2084.9 1702.5 2085.7 1706.5 2084.8 1710.6 2086.6 1714.6 2086.6 1718.6 2087 1722.6 2085.6 1726.6 2082.7 1730.7 2082.1 1734.7 2080.6 1738.7 2077.3 1742.7 2076.3 1746.7 2078.3 1750.8 2081.1 1754.8 2083.9 1758.8 2085.6 1762.9 2085.1 1767.1 2085 1771.2 2085.1 1775.3 2085.8 1779.5 2086.1 1783.6 2085.4 1787.8 2085.4 1791.9 2085.4 1796 2085.3 1800.2 2085.5 1804.3 2085.6 1808.3 2083.5 1812.3 2083 1816.4 2082.5 1820.4 2080.3" stroke="#616161" stroke-width="3.2" fill="none" stroke-linejoin="round" stroke-linecap="round"/>
<path d="M182.6 1847.2C185.3 1848 194.2 1850.2 199.1 1852.3C204 1854.4 206.6 1857.1 211.9 1860C217.2 1862.9 223.6 1867 231 1869.5C238.4 1872 248 1873.4 256.5 1875.3C265 1877.2 274.6 1879 282 1881C289.4 1883 294.8 1885.3 301.2 1887.4C307.6 1889.5 313.9 1891.5 320.3 1893.8C326.7 1896.1 333 1898.9 339.4 1901.4C345.8 1904 351.8 1907.2 358.6 1909.1C365.4 1911 373.4 1911.6 380 1912.6C386.6 1913.5 389 1913.9 398.1 1914.8C407.2 1915.7 422.4 1917.1 434.5 1917.7C446.6 1918.3 453.2 1918.1 470.8 1918.5C488.4 1918.9 521.2 1919.4 540 1919.9C558.8 1920.4 568.9 1920.9 583.4 1921.7C597.9 1922.5 612.2 1923.5 626.7 1924.9C641.2 1926.4 655.6 1928.2 670.1 1930.4C684.6 1932.6 699 1935.2 713.5 1937.9C728 1940.6 742.3 1943.3 756.8 1946.6C771.2 1949.9 785.7 1953.7 800.2 1957.5C814.7 1961.3 833.1 1966.3 843.6 1969.4C854.1 1972.5 847.9 1971.3 863.1 1975.9C878.3 1980.5 913 1990.4 934.7 1996.8C956.4 2003.2 973.8 2008.5 993.3 2014.4C1012.8 2020.3 1035.1 2026.8 1052 2032C1068.9 2037.2 1079.8 2041.1 1094.5 2045.8C1109.2 2050.5 1125.6 2055.9 1140 2060C1154.4 2064.1 1163.8 2067.5 1180.8 2070.2C1197.8 2072.8 1218.2 2074.5 1242 2075.9C1265.8 2077.3 1290.7 2077.9 1323.7 2078.8C1356.7 2079.8 1402.8 2081.1 1440 2081.6C1477.2 2082.1 1511.5 2081.9 1547.2 2082.1C1582.9 2082.3 1610.1 2082.8 1654.3 2083C1698.5 2083.2 1786 2083 1812.3 2083" stroke="#ff5a5a" stroke-width="4.0" fill="none" stroke-linejoin="round" stroke-linecap="round"/>
<path d="M183.6 2317 186.4 2319.8 189.3 2322.8 192.1 2326.7 195.8 2330.7 199.4 2335.1 203.4 2336.1 207.5 2337.6 211.5 2340 214.5 2343.7 217.6 2348.6 220.6 2352.3 223.6 2355.7 226.8 2358.6 230.1 2360.1 233.3 2363 237 2361.2 240.6 2358.9 244.2 2356.9 247.9 2355.7 251.1 2357.8 254.4 2360.9 257.6 2364.2 260.8 2367.6 264 2370.1 267.2 2372.7 270.5 2375.3 273.7 2376.8 276.9 2380 279.8 2382.8 282.7 2386.5 285.7 2389.8 288.6 2393.2 291.5 2395.7 295.5 2398.8 299.6 2399.8 303.6 2403 307.6 2402 311.7 2400.9 315.7 2399.4 319.4 2401.8 323 2403.7 326.6 2406.6 330.3 2409.1 335.1 2409.3 340 2411.7 344.9 2412.5 349.7 2412.7 354.5 2415.8 359.4 2418.8 362.4 2421.8 365.4 2426.2 368.5 2428.9 371.5 2432.1 376.3 2433.2 381.2 2433.5 386 2433.3 390 2434.5 394.1 2435.6 398.1 2437.1 402.1 2438 406.2 2438.8 410.2 2440.6 414.7 2439.5 419.2 2439.8 423.7 2437.7 428.3 2437 432.8 2437.3 437.3 2436 441.8 2435.7 445.2 2437.9 448.6 2440 451.9 2442 455.3 2445.3 458.7 2446.6 462.8 2444.9 466.8 2444 470.9 2442.5 474.9 2442 478.9 2440.2 483 2439.4 486.6 2441.2 490.3 2443.9 493.9 2445.1 497.5 2447.6 501.2 2450.2 504.8 2451.5 508.7 2448.8 512.6 2446.8 516.4 2445.2 520.3 2444.2 524.2 2441.8 528.2 2441.4 532.1 2440 536 2439.5 540 2439.2 544.8 2437.9 549.5 2437.7 554.3 2437.1 558.3 2432.2 562.4 2429 565 2426.3 567.5 2423.6 570.1 2420.6 572.7 2416.7 576.8 2417.1 580.8 2417.5 584.9 2416.7 589 2419.4 593.1 2423.9 596.1 2420.7 599.2 2419.1 602.2 2416 605.3 2412.7 609.4 2412.9 613.5 2414.3 617.5 2414.1 621.6 2414.9 625.7 2414.7 629.8 2412.3 633.9 2410 637.9 2408.4 642 2406.5 645.4 2402.1 648.8 2398.8 652.2 2395.3 656.3 2394.7 660.4 2392.2 664.5 2390.2 668.6 2388.8 672.7 2388.2 676.1 2383.5 679.5 2380.5 682.9 2375.9 684.9 2371.6 687 2367.4 689 2362.9 691 2359.6 696.1 2358.4 701.2 2355.5 704.1 2352.1 706.9 2348.5 709.8 2344.9 712.6 2341.7 715.5 2339.2 719.6 2337.6 723.6 2337.5 727.7 2335.5 731.8 2335.1 734.9 2330.7 738 2327.9 741 2323.9 744.1 2320.8 746.1 2318 748.2 2312.8 750.2 2309.8 752.3 2306.6 754.3 2302.4 757.7 2298.8 761.1 2296.5 764.5 2292.2 768.6 2291.1 772.7 2289.7 776.7 2289 780.8 2287.3 784.9 2287.1 788.5 2284.7 792 2282.1 795.6 2281 799.2 2278 802.8 2280.6 806.4 2282 809.9 2283.2 813.5 2286.1 817.6 2282.3 821.6 2278.8 825.7 2275.9 829.8 2274.6 833.9 2273.8 837.9 2274.1 842 2272 846.1 2271.8 850.2 2268.2 854.3 2267 858.3 2268.2 862.4 2267.1 865.5 2264.2 868.6 2261 873.1 2261.3 877.6 2259.6 882 2259.9 886.5 2258.9 891 2258 896.1 2257 901.2 2254.9 903.9 2251.9 906.7 2248.1 909.4 2244.7 913.9 2244 918.4 2244.2 922.8 2245.4 927.3 2245.4 931.8 2244.7 935.2 2242.4 938.6 2238.3 942 2235.5 945.1 2232.2 948.1 2228.9 951.2 2225 954.3 2221.2 958.4 2221.6 962.5 2220.9 966.5 2221 970.6 2220.9 974.7 2219.9 978.8 2220.2 982.4 2218.9 986 2216.9 989.5 2213.3 993.1 2212 995.8 2209.4 998.5 2206 1001.2 2201.8 1005.3 2202.7 1009.4 2202.9 1011.4 2206.1 1013.5 2211.8 1015.5 2215.1 1019.6 2219.2 1023.7 2216.8 1027.7 2216.6 1031.8 2214.1 1035.9 2212.4 1040 2209.2 1044.1 2208 1048.2 2203.8 1052.2 2200.8 1056.3 2198.5 1060.4 2195.7 1063.5 2199.4 1066.5 2202.9 1071.6 2203.8 1076.7 2203.9 1080.8 2200.6 1084.9 2195.7 1090 2194.7 1095.1 2194.7 1098.2 2198.4 1101.2 2203.9 1105.3 2207.7 1109.4 2210 1112.8 2211.5 1116.2 2215.4 1119.6 2217.1 1121.6 2221.2 1123.7 2227.2 1125.7 2231.4 1127.3 2235.6 1129 2239.4 1130.6 2242.5 1132.3 2246.8 1133.9 2249.8 1135.9 2253.3 1138 2258.3 1140 2261.7 1142 2266.1 1143.2 2270.9 1144.5 2274.8 1145.7 2278.3 1147 2282.5 1148.2 2286.5 1149.6 2290.4 1151 2296 1152.3 2299.2 1153.7 2304.3 1155 2308.2 1156.4 2312.9 1157.7 2316.6 1159.1 2319.8 1160.4 2324.5 1161.9 2328 1163.3 2332.6 1164.8 2335.9 1166.2 2338.8 1167.7 2344 1169.1 2347.8 1170.6 2351 1172.6 2354 1174.7 2358.6 1176.8 2362 1178.8 2366.5 1180.9 2369.4 1182.9 2373.5 1184.1 2377.1 1185.2 2381.6 1186.4 2386.6 1187.5 2389.1 1188.7 2393.2 1189.8 2398.1 1191 2402 1192.7 2406.8 1194.4 2410.2 1196.1 2414.1 1197.8 2419 1199.5 2422.9 1201.2 2426.5 1202.6 2429.8 1203.9 2435.4 1205.3 2438.2 1206.7 2442.5 1208 2447.5 1209.4 2451 1211.4 2454.9 1213.5 2459.7 1215.5 2462.6 1217.6 2468 1219.6 2471.4 1222 2474.1 1224.5 2477.3 1226.9 2481.2 1229.4 2484.2 1231.8 2487.8 1234.3 2491.5 1236.7 2495.8 1239.2 2499.2 1241.6 2501.6 1244.1 2506.1 1246.1 2509.4 1248.2 2513.5 1250.2 2517.1 1252.3 2521.2 1254.3 2524.5 1257 2528.2 1259.7 2531.2 1262.4 2535.7 1267.6 2535.2 1272.7 2535.7 1274.7 2539.8 1276.8 2542.4 1278.8 2546.6 1280.9 2550.5 1282.9 2553.1 1286 2556.4 1289 2559.2 1293.1 2560.7 1297.2 2561.8 1301.2 2562.5 1305.3 2564.8 1309.4 2565.3 1313.5 2568.3 1317.5 2572.2 1321.6 2574.5 1326.4 2574.5 1331.1 2575.8 1335.9 2575.5 1340 2579.4 1344.1 2582.5 1348.2 2585.7 1352.3 2584.9 1356.3 2583.7 1360.4 2583.7 1364.5 2584.7 1368.6 2584.5 1372.7 2585.5 1376.7 2585 1380.8 2585.4 1384.9 2586.7 1389 2585.5 1393.1 2586.1 1397.1 2584.3 1401.2 2585 1405.3 2583.7 1408.9 2585.5 1412.4 2587.9 1416 2589.5 1419.6 2591.8 1423.7 2592 1427.8 2590.9 1431.8 2591.4 1435.9 2592.3 1440 2591.5 1444.2 2590.9 1448.3 2591.8 1452.5 2591.2 1456.7 2591.1 1460.8 2590.6 1465 2590.6 1469.2 2592.3 1473.3 2592.1 1477.5 2591.5 1482.9 2595.5 1486.9 2595 1490.9 2594.1 1494.9 2593.3 1498.9 2591.5 1502.9 2591.9 1507 2593.7 1511 2594.5 1515 2595.5 1519.7 2594.8 1524.4 2594.7 1529.1 2593.6 1533.8 2592.3 1538 2593.6 1542.2 2592.5 1546.4 2593.9 1550.6 2594.4 1554.8 2595 1559 2595.3 1563.2 2595.5 1567.2 2598.1 1571.3 2599.6 1576 2600.2 1580.7 2602.4 1585.3 2602.4 1590 2603.6 1595.3 2601.1 1600.7 2598.2 1605.2 2599.1 1609.6 2599 1614.1 2598.6 1618.6 2598.6 1623 2599.1 1627.5 2599.6 1632 2600.7 1636.4 2602.2 1640.9 2602.2 1645 2600.9 1649 2598.2 1653 2600 1657 2602.2 1661 2602.3 1665 2603.2 1669 2602.5 1673.1 2603 1677.1 2602.5 1681.1 2603.6 1685.6 2603 1690 2603.7 1694.5 2603.9 1699 2603.8 1703.4 2603.4 1707.9 2603.6 1712.4 2604.6 1716.8 2604.3 1721.3 2603.6 1725.8 2603.7 1730.2 2605.5 1734.7 2604.9 1739 2605.5 1743.3 2605.1 1747.5 2604.3 1751.8 2603.5 1756.1 2602.8 1760.4 2602.8 1764.7 2602.5 1768.9 2603.5 1773.2 2603.2 1777.5 2602.2 1782.9 2604.1 1788.3 2604.9 1792.5 2604.3 1796.6 2604.4 1800.8 2604.5 1804.9 2605.7 1809.1 2604.3 1813.2 2605.4 1817.4 2605.2 1821.5 2605 1825.7 2604.9" stroke="#1a1a1a" stroke-width="3.6" fill="none" stroke-linejoin="round" stroke-linecap="round"/>
<path d="M183.1 2316.8C185.1 2318.9 190.7 2325 195.3 2329.1C199.9 2333.2 205.5 2337.4 210.6 2341.3C215.7 2345.2 220.8 2349.9 225.9 2352.8C231 2355.7 236.1 2357 241.2 2358.9C246.3 2360.8 251.4 2361.6 256.5 2364.3C261.6 2367 266.7 2371.2 271.8 2375C276.9 2378.8 282 2383.4 287.1 2387.2C292.2 2391 297.4 2395.2 302.5 2398C307.6 2400.8 312.7 2402.2 317.8 2404.1C322.9 2406 328 2407.4 333.1 2409.4C338.2 2411.4 343.3 2413.7 348.4 2416.3C353.5 2418.9 358.6 2422.2 363.7 2424.8C368.8 2427.4 373.9 2429.8 379 2431.6C384.1 2433.4 389.2 2434.3 394.3 2435.5C399.4 2436.7 405.3 2437.8 409.6 2438.5C413.9 2439.2 413.8 2439.2 420 2440C426.2 2440.8 433.3 2442.2 446.6 2443.5C459.9 2444.8 483.9 2447 500 2447.8C516.1 2448.6 528.9 2448 543.4 2448.2C557.9 2448.4 572.2 2448.4 586.7 2448.8C601.2 2449.2 615.6 2449.8 630.1 2450.4C644.6 2451 659 2451.4 673.5 2452.5C688 2453.6 702.3 2455.1 716.8 2456.9C731.2 2458.7 745.7 2461.1 760.2 2463.4C774.7 2465.8 789.1 2467.8 803.6 2471C818.1 2474.2 831 2478.3 847.2 2482.7C863.4 2487.1 882.9 2492.7 900.7 2497.6C918.6 2502.5 936.4 2507.2 954.3 2512.3C972.2 2517.4 990 2522.9 1007.9 2528.4C1025.8 2533.9 1047.5 2541 1061.5 2545.5C1075.5 2550 1082.5 2552.1 1092.2 2555.5C1102 2558.9 1110.6 2562.5 1120 2566C1129.4 2569.5 1139.1 2573.4 1148.4 2576.5C1157.7 2579.6 1166.7 2582.2 1176 2584.5C1185.3 2586.8 1195.2 2588.7 1204.5 2590.5C1213.8 2592.3 1222.7 2594.1 1232 2595.5C1241.3 2596.9 1246.6 2597.9 1260.6 2599C1274.6 2600.1 1297.3 2601.2 1316 2602C1334.7 2602.8 1348.9 2603 1372.9 2603.5C1396.9 2604 1432 2604.6 1460 2605C1488 2605.4 1504.5 2605.6 1541.2 2605.9C1577.9 2606.2 1633 2606.5 1680 2606.7C1727 2606.9 1799.2 2607.1 1823.1 2607.2" stroke="#f01212" stroke-width="4.4" fill="none" stroke-linejoin="round" stroke-linecap="round"/>
<text transform="translate(181.5 1327.5) scale(1 1.04)" style="font-family:'Liberation Sans',Arial,sans-serif;stroke-width:0.3px;font-size:52px" text-anchor="middle">970</text>
<text transform="translate(367.2 1327.5) scale(1 1.04)" style="font-family:'Liberation Sans',Arial,sans-serif;stroke-width:0.3px;font-size:52px" text-anchor="middle">965</text>
<text transform="translate(552.9 1327.5) scale(1 1.04)" style="font-family:'Liberation Sans',Arial,sans-serif;stroke-width:0.3px;font-size:52px" text-anchor="middle">960</text>
<text transform="translate(738.6 1327.5) scale(1 1.04)" style="font-family:'Liberation Sans',Arial,sans-serif;stroke-width:0.3px;font-size:52px" text-anchor="middle">955</text>
<text transform="translate(924.3 1327.5) scale(1 1.04)" style="font-family:'Liberation Sans',Arial,sans-serif;stroke-width:0.3px;font-size:52px" text-anchor="middle">950</text>
<text transform="translate(1110 1327.5) scale(1 1.04)" style="font-family:'Liberation Sans',Arial,sans-serif;stroke-width:0.3px;font-size:52px" text-anchor="middle">945</text>
<text transform="translate(1295.7 1327.5) scale(1 1.04)" style="font-family:'Liberation Sans',Arial,sans-serif;stroke-width:0.3px;font-size:52px" text-anchor="middle">940</text>
<text transform="translate(1481.4 1327.5) scale(1 1.04)" style="font-family:'Liberation Sans',Arial,sans-serif;stroke-width:0.3px;font-size:52px" text-anchor="middle">935</text>
<text transform="translate(1667.1 1327.5) scale(1 1.04)" style="font-family:'Liberation Sans',Arial,sans-serif;stroke-width:0.3px;font-size:52px" text-anchor="middle">930</text>
<text transform="translate(1852.8 1327.5) scale(1 1.04)" style="font-family:'Liberation Sans',Arial,sans-serif;stroke-width:0.3px;font-size:52px" text-anchor="middle">925</text>
<text transform="translate(181.5 2737.8) scale(1 1.04)" style="font-family:'Liberation Sans',Arial,sans-serif;stroke-width:0.3px;font-size:52px" text-anchor="middle">85</text>
<text transform="translate(599.2 2737.8) scale(1 1.04)" style="font-family:'Liberation Sans',Arial,sans-serif;stroke-width:0.3px;font-size:52px" text-anchor="middle">80</text>
<text transform="translate(1016.9 2737.8) scale(1 1.04)" style="font-family:'Liberation Sans',Arial,sans-serif;stroke-width:0.3px;font-size:52px" text-anchor="middle">75</text>
<text transform="translate(1434.6 2737.8) scale(1 1.04)" style="font-family:'Liberation Sans',Arial,sans-serif;stroke-width:0.3px;font-size:52px" text-anchor="middle">70</text>
<text transform="translate(1852.3 2737.8) scale(1 1.04)" style="font-family:'Liberation Sans',Arial,sans-serif;stroke-width:0.3px;font-size:52px" text-anchor="middle">65</text>
<text transform="translate(1017.4 1399.5) scale(0.984 1.03)" style="font-family:'Liberation Sans',Arial,sans-serif;stroke-width:0.3px;font-size:62px" text-anchor="middle">Binding Energy (eV)</text>
<text transform="translate(1017.4 2830.8) scale(0.984 1.03)" style="font-family:'Liberation Sans',Arial,sans-serif;stroke-width:0.3px;font-size:62px" text-anchor="middle">Binding Energy (eV)</text>
<text transform="translate(118.2 626.5) rotate(-90) scale(1 1.05)" style="font-family:'Liberation Sans',Arial,sans-serif;stroke-width:0.3px;font-size:62px" text-anchor="middle">Intensity (a.u.)</text>
<text transform="translate(83.6 2038.4) rotate(-90) scale(1 1.05)" style="font-family:'Liberation Sans',Arial,sans-serif;stroke-width:0.3px;font-size:62px" text-anchor="middle">Intensity (a.u.)</text>
<text transform="translate(217 148) scale(1 1.07)" style="font-family:'Liberation Serif','Times New Roman',serif;letter-spacing:2.3px;font-size:66px" text-anchor="start">(a)</text>
<text transform="translate(228 1548) scale(1 1.07)" style="font-family:'Liberation Serif','Times New Roman',serif;letter-spacing:0.8px;font-size:66px" text-anchor="start">(b)</text>
<text transform="translate(1652 96.5) scale(1 1.07)" style="font-family:'Liberation Serif','Times New Roman',serif;letter-spacing:0.3px;font-size:66px" text-anchor="start" word-spacing="1">Cu 2p</text>
<text transform="translate(1496 189.5) scale(1 1.11)" style="font-family:'Liberation Serif','Times New Roman',serif;letter-spacing:0.3px;font-size:66px" text-anchor="start">932.8</text>
<text transform="translate(1496.5 257) scale(1 1.07)" style="font-family:'Liberation Serif','Times New Roman',serif;letter-spacing:0.2px;font-size:66px" text-anchor="start">2p<tspan style="font-size:47px" dy="19">3/2</tspan></text>
<text transform="translate(729 324) scale(1 1.11)" style="font-family:'Liberation Serif','Times New Roman',serif;letter-spacing:1.05px;font-size:66px" text-anchor="start">952.8</text>
<text transform="translate(737 392) scale(1 1.07)" style="font-family:'Liberation Serif','Times New Roman',serif;letter-spacing:0.8px;font-size:66px" text-anchor="start">2p<tspan style="font-size:47px" dy="16">1/2</tspan></text>
<text transform="translate(217 479) scale(1 1.07)" style="font-family:'Liberation Serif','Times New Roman',serif;letter-spacing:0.55px;font-size:66px" text-anchor="start">CZA50</text>
<text transform="translate(216.5 892) scale(1 1.07)" style="font-family:'Liberation Serif','Times New Roman',serif;letter-spacing:0.43px;font-size:66px" text-anchor="start">MCZA-0.25</text>
<text transform="translate(781 844.3) scale(1 1.11)" style="font-family:'Liberation Serif','Times New Roman',serif;letter-spacing:0.05px;font-size:66px" text-anchor="start">952.5</text>
<text transform="translate(1590 760.3) scale(1 1.07)" style="font-family:'Liberation Serif','Times New Roman',serif;letter-spacing:0.8px;font-size:66px" text-anchor="start">932.6</text>
<text transform="translate(1653 1533) scale(1 1.07)" style="font-family:'Liberation Serif','Times New Roman',serif;letter-spacing:0.3px;font-size:66px" text-anchor="start" word-spacing="2">Al 2p</text>
<text transform="translate(744.5 1529) scale(1 1.07)" style="font-family:'Liberation Serif','Times New Roman',serif;letter-spacing:0.8px;font-size:66px" text-anchor="start" word-spacing="2">Cu 3p</text>
<text transform="translate(791.3 1611.5) scale(1 1.11)" style="font-family:'Liberation Serif','Times New Roman',serif;letter-spacing:1.47px;font-size:66px" text-anchor="start">76.8</text>
<text transform="translate(1013 1529.5) scale(1 1.07)" style="font-family:'Liberation Serif','Times New Roman',serif;letter-spacing:0.23px;font-size:66px" text-anchor="start">Al 2p<tspan style="font-size:47px" dy="18">3/2</tspan></text>
<text transform="translate(1043 1617.3) scale(1 1.09)" style="font-family:'Liberation Serif','Times New Roman',serif;letter-spacing:0.8px;font-size:66px" text-anchor="start">74.1</text>
<text transform="translate(297.7 1857) scale(1 1.07)" style="font-family:'Liberation Serif','Times New Roman',serif;letter-spacing:0.55px;font-size:66px" text-anchor="start">CZA50</text>
<text transform="translate(288.8 2358.5) scale(1 1.07)" style="font-family:'Liberation Serif','Times New Roman',serif;letter-spacing:0.3px;font-size:66px" text-anchor="start">MCZA-0.25</text>
</svg>
</body></html>
